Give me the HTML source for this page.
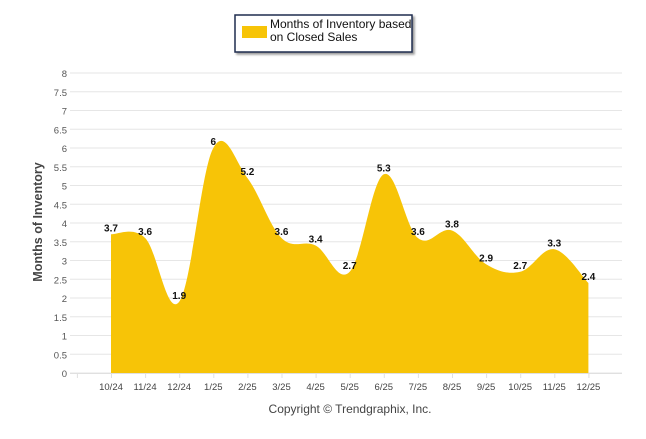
<!DOCTYPE html>
<html><head><meta charset="utf-8"><style>
body{margin:0;background:#fff;width:646px;height:434px;overflow:hidden;font-family:"Liberation Sans",sans-serif}
</style></head><body>
<svg id="chart" width="646" height="434" xmlns="http://www.w3.org/2000/svg">
<g>
<rect x="235" y="15" width="177" height="37" fill="#fff" stroke="#1f2d4f" stroke-width="1.5" style="filter:drop-shadow(2px 2px 1px #999)"/>
<rect x="242" y="26" width="25" height="12" fill="#f7c407"/>
<text x="270" y="28" font-size="12" fill="#111">Months of Inventory based</text>
<text x="270" y="41" font-size="12" fill="#111">on Closed Sales</text>
</g>
<g id="grid"></g>
<g id="area"></g>
<g id="labels"></g>
<text transform="translate(42,222) rotate(-90)" text-anchor="middle" font-size="12.5" font-weight="bold" fill="#444">Months of Inventory</text>
<text x="350" y="413" text-anchor="middle" font-size="12" fill="#444">Copyright © Trendgraphix, Inc.</text>
</svg>
<script>
const categories=["10/24","11/24","12/24","1/25","2/25","3/25","4/25","5/25","6/25","7/25","8/25","9/25","10/25","11/25","12/25"];
const values=[3.7,3.6,1.9,6,5.2,3.6,3.4,2.7,5.3,3.6,3.8,2.9,2.7,3.3,2.4];
const yTicks=[0,0.5,1,1.5,2,2.5,3,3.5,4,4.5,5,5.5,6,6.5,7,7.5,8];
const NS="http://www.w3.org/2000/svg";
const x=i=>111+i*34.1;
const y=v=>373-v*37.5;
function mk(t,a,p){const e=document.createElementNS(NS,t);for(const k in a)e.setAttribute(k,a[k]);p.appendChild(e);return e;}
const grid=document.getElementById('grid');
yTicks.forEach(t=>{
 const l=mk('line',{x1:70,x2:622,y1:y(t),y2:y(t),stroke:'#e6e6e6','stroke-width':1},grid);
 
 
 const tx=mk('text',{x:67,y:y(t)+4,'text-anchor':'end','font-size':9.5,fill:'#555'},grid);
 tx.textContent=t;
 
 
});
for(let i=-1;i<categories.length;i++){mk('line',{x1:x(i)+0.5,x2:x(i)+0.5,y1:373,y2:378,stroke:'#e0e0e0'},grid);}
mk('line',{x1:70,x2:622,y1:373.5,y2:373.5,stroke:'#e0e0e0'},grid);
categories.forEach((c,i)=>{
 const t=mk('text',{x:x(i),y:390,'text-anchor':'middle','font-size':9.5,fill:'#444'},grid);
 t.textContent=c;
 
 
});
const pts=values.map((v,i)=>[x(i),y(v)]);
let d=`M${pts[0][0]},${y(0)} L${pts[0][0]},${pts[0][1]}`;
for(let i=0;i<pts.length-1;i++){
 const p0=pts[Math.max(0,i-1)],p1=pts[i],p2=pts[i+1],p3=pts[Math.min(pts.length-1,i+2)];
 const k=0.18;
 d+=` C${p1[0]+(p2[0]-p0[0])*k},${p1[1]+(p2[1]-p0[1])*k} ${p2[0]-(p3[0]-p1[0])*k},${p2[1]-(p3[1]-p1[1])*k} ${p2[0]},${p2[1]}`;
}
d+=` L${pts[pts.length-1][0]},${y(0)} Z`;
const a=mk('path',{d:d,fill:'#f7c407'},document.getElementById('area'));


const lg=document.getElementById('labels');
values.forEach((v,i)=>{
 const t=mk('text',{x:x(i),y:y(v)-3,'text-anchor':'middle','font-size':10,'font-weight':'bold',fill:'#111'},lg);
 t.textContent=v;
 
 
});
</script>
</body></html>
